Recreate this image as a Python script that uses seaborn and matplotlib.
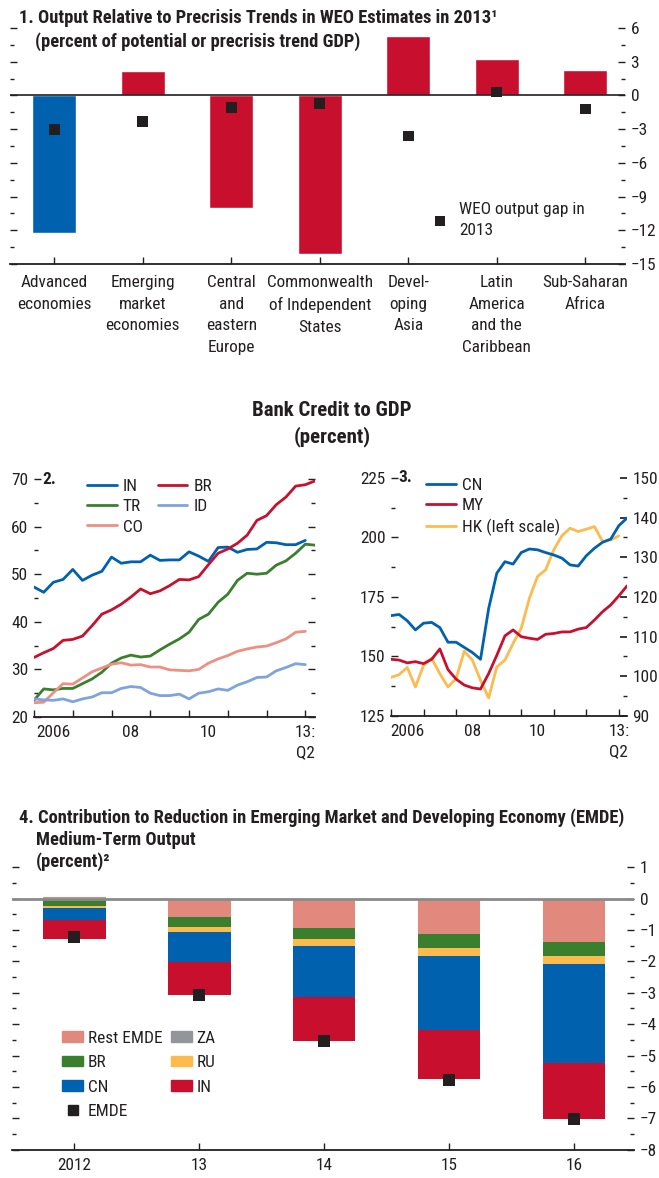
import numpy as np
import pandas as pd
import matplotlib
matplotlib.use("Agg")
import matplotlib.pyplot as plt
import seaborn as sns
from matplotlib.patches import Patch
from matplotlib.lines import Line2D

# ---- panel 1: output relative to precrisis trends
regions = ["Advanced\neconomies", "Emerging\nmarket\neconomies", "Central\nand\neastern\nEurope",
           "Commonwealth\nof Independent\nStates", "Devel-\noping\nAsia",
           "Latin\nAmerica\nand the\nCaribbean", "Sub-Saharan\nAfrica"]
trend_gap = [-12.2, 2.2, -10.0, -14.1, 5.3, 3.2, 2.3]
weo_gap = [-3.0, -2.3, -1.1, -0.7, -3.6, 0.3, -1.2]

# ---- panels 2 and 3: bank credit to GDP, quarterly 2006Q1-2013Q2
quarters = pd.period_range("2006Q1", "2013Q2", freq="Q")
nan = np.nan
IN = [47.3, 46.2, 48.3, 48.9, 51.0, 48.7, 49.8, 50.6, 53.6, 52.3, 52.6, 52.6, 54.0, 52.9, 53.0,
      53.0, 54.7, 53.8, 52.7, 55.6, 55.7, 54.6, 55.2, 55.3, 56.7, 56.6, 56.2, 56.2, 57.1, nan]
BR = [32.5, 33.5, 34.4, 36.1, 36.3, 37.0, 39.2, 41.6, 42.5, 43.7, 45.2, 46.9, 45.9, 46.5, 47.6,
      48.9, 48.8, 49.5, 52.0, 54.4, 55.3, 56.5, 58.2, 61.3, 62.3, 64.6, 66.2, 68.5, 68.8, 69.6]
TR = [23.5, 25.9, 25.7, 26.0, 26.0, 27.0, 28.0, 29.4, 31.3, 32.4, 33.0, 32.6, 32.8, 34.1, 35.3,
      36.4, 37.8, 40.5, 41.6, 44.1, 45.8, 48.7, 50.2, 50.0, 50.2, 51.9, 52.8, 54.4, 56.3, 56.1]
ID = [23.8, 23.6, 23.5, 23.8, 23.2, 23.8, 24.2, 25.1, 25.1, 26.0, 26.4, 26.2, 25.0, 24.5, 24.5,
      24.8, 23.8, 25.0, 25.3, 25.9, 25.6, 26.7, 27.4, 28.3, 28.4, 29.7, 30.4, 31.2, 31.0, nan]
CO = [23.0, 23.1, 25.1, 27.0, 26.9, 28.2, 29.5, 30.3, 31.1, 31.4, 30.9, 31.0, 30.5, 30.5, 29.9,
      29.8, 29.7, 30.0, 31.3, 32.2, 32.9, 33.8, 34.3, 34.7, 34.9, 35.6, 36.4, 37.8, 38.0, nan]
CN = [115.3, 115.6, 114.0, 111.7, 113.4, 113.6, 112.3, 108.6, 108.6, 107.3, 106.0, 104.3, 117.1,
      126.0, 128.9, 128.3, 131.2, 132.1, 131.9, 131.2, 130.6, 129.8, 128.1, 127.8, 130.4, 132.3,
      133.8, 134.6, 138.0, 139.9]
MY = [104.3, 104.1, 103.4, 103.7, 103.2, 104.3, 106.9, 101.7, 99.3, 97.8, 97.1, 96.8, 100.7,
      105.3, 110.2, 111.7, 110.0, 109.6, 109.3, 110.6, 110.8, 111.2, 111.2, 111.9, 112.3, 114.2,
      116.3, 118.0, 120.3, 122.8]
HK = [141.2, 142.4, 145.4, 137.2, 146.3, 149.2, 142.8, 137.2, 140.7, 152.2, 148.5, 140.0, 132.6,
      145.6, 148.5, 155.5, 161.8, 174.4, 183.6, 186.4, 194.8, 200.7, 203.9, 202.5, 203.5, 204.6,
      198.3, 199.0, 200.7, nan]

# ---- panel 4: contributions to EMDE medium-term output reduction
years = ["2012", "13", "14", "15", "16"]
rest_emde = [0.06, -0.57, -0.92, -1.14, -1.39]
br_c = [-0.22, -0.32, -0.37, -0.44, -0.44]
za_c = [0.0, 0.0, 0.0, 0.0, 0.0]
ru_c = [-0.07, -0.16, -0.23, -0.25, -0.25]
cn_c = [-0.40, -0.98, -1.63, -2.37, -3.15]
in_c = [-0.61, -1.05, -1.40, -1.56, -1.81]
emde = [-1.23, -3.07, -4.54, -5.77, -7.03]

BLUE = "#0061ae"
RED = "#c8102e"
GREEN = "#3a7f2e"
LBLUE = "#7fa3db"
PINK = "#ec9083"
YELLOW = "#fdbb4e"
SALMON = "#e0897c"
GRAY = "#939598"
INK = "#231f20"

sns.set_theme(style="white")
plt.rcParams["font.family"] = ["Roboto Condensed", "DejaVu Sans"]
plt.rcParams["font.stretch"] = "condensed"
plt.rcParams["text.color"] = INK
plt.rcParams["xtick.color"] = INK
plt.rcParams["ytick.color"] = INK
FS = 12.4

W, H = 659, 1178
fig = plt.figure(figsize=(W / 100, H / 100), dpi=100)


def box(x0, x1, ytop, ybot):
    return [x0 / W, 1 - ybot / H, (x1 - x0) / W, (ybot - ytop) / H]


def style_axis(ax):
    for s in ["left", "right", "top"]:
        ax.spines[s].set_visible(False)
    ax.spines["bottom"].set_color(INK)
    ax.spines["bottom"].set_linewidth(1.3)
    ax.tick_params(which="both", direction="in", left=True, right=True, bottom=True,
                   labelsize=FS, length=5, width=1, color=INK)


# ================= panel 1
ax1 = fig.add_axes(box(10, 625, 16.8, 264))
df1 = pd.DataFrame({"region": regions, "gap": trend_gap, "weo": weo_gap})
sns.barplot(data=df1, x="region", y="gap", hue="region",
            palette=[BLUE] + [RED] * 6, width=0.5, saturation=1, legend=False, ax=ax1)
sns.scatterplot(data=df1, x="region", y="weo", marker="s", color=INK, s=60,
                edgecolor="none", ax=ax1, label="WEO output gap in\n2013")
ax1.axhline(0, color=INK, lw=1.2)
ax1.set_ylim(-15, 7)
ax1.set_xlim(-0.5, 6.45)
ax1.set_yticks(np.arange(-15, 7, 3))
ax1.set_yticks(np.arange(-15, 7, 1.5), minor=True)
ax1.set_yticklabels([f"{v:d}".replace("-", "\u2212") for v in range(-15, 7, 3)])
style_axis(ax1)
ax1.tick_params(axis="y", labelleft=False, labelright=True, pad=4)
ax1.tick_params(axis="y", which="minor", length=3)
ax1.tick_params(axis="x", pad=8)
ax1.set_xticks(range(len(regions)))
ax1.set_xticklabels(regions, linespacing=1.55)
ax1.set_xlabel("")
ax1.set_ylabel("")
leg1 = ax1.legend(loc="center left", bbox_to_anchor=(0.685, 0.18), frameon=False, fontsize=FS,
                  borderpad=0, borderaxespad=0, handlelength=1.0, handletextpad=0.6)
for t in leg1.get_texts():
    t.set_linespacing(1.5)

fig.text(19 / W, 1 - 18 / H, "1. Output Relative to Precrisis Trends in WEO Estimates in 2013\u00b9",
         fontsize=13.3, fontweight="bold", va="center")
fig.text(35 / W, 1 - 42 / H, "(percent of potential or precrisis trend GDP)",
         fontsize=13.3, fontweight="bold", va="center")

# ================= shared title for 2 and 3
fig.text(332 / W, 1 - 410 / H, "Bank Credit to GDP", fontsize=15,
         fontweight="bold", ha="center", va="center")
fig.text(332 / W, 1 - 437 / H, "(percent)", fontsize=15,
         fontweight="bold", ha="center", va="center")

xq = quarters.year + (quarters.quarter - 1) / 4
year_ticks = list(range(2006, 2014))
minor_pos = [2006.5, 2008.5, 2010.5, 2013.0]
minor_lab = ["2006", "08", "10", "13:\nQ2"]


def time_axis(ax):
    ax.xaxis.remove_overlapping_locs = False
    ax.set_xlim(2006, 2013.25)
    ax.set_xticks(year_ticks)
    ax.set_xticklabels([])
    ax.set_xticks(minor_pos, minor=True)
    ax.set_xticklabels(minor_lab, minor=True, linespacing=1.4)
    ax.tick_params(axis="x", which="minor", length=0, pad=6, labelsize=FS)
    ax.set_xlabel("")
    ax.set_ylabel("")


# ================= panel 2
ax2 = fig.add_axes(box(34, 315, 479, 717))
df2 = pd.DataFrame({"t": xq, "IN": IN, "BR": BR, "TR": TR, "ID": ID, "CO": CO})
for name, col in [("IN", BLUE), ("TR", GREEN), ("CO", PINK), ("BR", RED), ("ID", LBLUE)]:
    sns.lineplot(data=df2, x="t", y=name, color=col, lw=2, ax=ax2, label=name)
ax2.set_ylim(20, 70)
ax2.set_yticks(range(20, 71, 10))
ax2.set_yticks(range(20, 71, 5), minor=True)
style_axis(ax2)
ax2.tick_params(axis="y", labelleft=True, labelright=False, pad=4)
ax2.tick_params(axis="y", which="minor", length=3)
time_axis(ax2)
ax2.legend(loc="upper left", bbox_to_anchor=(0.19, 1.0), ncol=2, frameon=False, fontsize=FS,
           borderpad=0, borderaxespad=0, handlelength=1.7, handletextpad=0.35,
           columnspacing=0.9, labelspacing=0.3)
ax2.text(0.03, 1.0, "2.", transform=ax2.transAxes, fontsize=FS, fontweight="bold",
         va="center", ha="left")

# ================= panel 3
ax3 = fig.add_axes(box(391, 627, 478, 716))
ax3r = ax3.twinx()
df3 = pd.DataFrame({"t": xq, "CN": CN, "MY": MY, "HK": HK})
sns.lineplot(data=df3, x="t", y="HK", color=YELLOW, lw=2, ax=ax3, legend=False)
sns.lineplot(data=df3, x="t", y="CN", color=BLUE, lw=2, ax=ax3r, legend=False)
sns.lineplot(data=df3, x="t", y="MY", color=RED, lw=2, ax=ax3r, legend=False)
ax3.set_ylim(125, 225)
ax3.set_yticks(range(125, 226, 25))
ax3.set_yticks(np.arange(125, 226, 12.5), minor=True)
ax3r.set_ylim(90, 150)
ax3r.set_yticks(range(90, 151, 10))
ax3r.set_yticks(range(90, 151, 5), minor=True)
style_axis(ax3)
ax3.tick_params(axis="y", left=True, right=False, labelleft=True, pad=4)
ax3.tick_params(axis="y", which="minor", right=False, length=3)
for s in ["left", "right", "top", "bottom"]:
    ax3r.spines[s].set_visible(False)
ax3r.tick_params(which="both", direction="in", right=True, left=False, labelsize=FS,
                 length=5, color=INK, pad=4)
ax3r.tick_params(which="minor", length=3)
ax3r.set_ylabel("")
time_axis(ax3)
handles3 = [Line2D([], [], color=BLUE, lw=2), Line2D([], [], color=RED, lw=2),
            Line2D([], [], color=YELLOW, lw=2)]
ax3r.legend(handles3, ["CN", "MY", "HK (left scale)"], loc="upper left",
            bbox_to_anchor=(0.15, 1.0), frameon=False, fontsize=FS, borderpad=0,
            borderaxespad=0, handlelength=1.7, handletextpad=0.35, labelspacing=0.3)
ax3.text(0.03, 1.0, "3.", transform=ax3.transAxes, fontsize=FS, fontweight="bold",
         va="center", ha="left")

# ================= panel 4
ax4 = fig.add_axes(box(12, 634, 859.5, 1149.6))
layers = [("Rest EMDE", rest_emde, SALMON), ("BR", br_c, GREEN), ("ZA", za_c, GRAY),
          ("RU", ru_c, YELLOW), ("CN", cn_c, BLUE), ("IN", in_c, RED)]
xpos = np.arange(len(years))
pos_base = np.zeros(len(years))
neg_base = np.zeros(len(years))
for name, vals, col in layers:
    vals = np.array(vals)
    base = np.where(vals >= 0, pos_base, neg_base)
    ax4.bar(xpos, vals, bottom=base, width=0.5, color=col, linewidth=0)
    pos_base = pos_base + np.clip(vals, 0, None)
    neg_base = neg_base + np.clip(vals, None, 0)
df4 = pd.DataFrame({"x": xpos, "emde": emde})
sns.scatterplot(data=df4, x="x", y="emde", marker="s", color=INK, s=75,
                edgecolor="none", ax=ax4, zorder=5)
ax4.axhline(0, color="#8a8a8a", lw=2, zorder=4)
ax4.set_xlim(-0.5, 4.48)
ax4.set_ylim(-8, 1.25)
ax4.set_yticks(range(-8, 2))
ax4.set_yticks(np.arange(-8, 1.01, 0.5), minor=True)
ax4.set_yticklabels([f"{v:d}".replace("-", "\u2212") for v in range(-8, 2)])
style_axis(ax4)
ax4.tick_params(axis="y", labelleft=False, labelright=True, pad=4)
ax4.tick_params(axis="y", which="minor", length=3)
ax4.set_xticks(xpos)
ax4.set_xticklabels(years)
ax4.tick_params(axis="x", pad=6)
ax4.set_xlabel("")
ax4.set_ylabel("")
handles4 = [Patch(color=SALMON), Patch(color=GREEN), Patch(color=BLUE),
            Line2D([], [], marker="s", color=INK, ls="none", markersize=7),
            Patch(color=GRAY), Patch(color=YELLOW), Patch(color=RED)]
labels4 = ["Rest EMDE", "BR", "CN", "EMDE", "ZA", "RU", "IN"]
ax4.legend(handles4, labels4, loc="upper left", bbox_to_anchor=(0.08, 0.41), ncol=2,
           frameon=False, fontsize=FS, borderpad=0, borderaxespad=0, handlelength=1.25,
           handleheight=0.55, handletextpad=0.25, columnspacing=0.5, labelspacing=0.55)

fig.text(19 / W, 1 - 818 / H,
         "4. Contribution to Reduction in Emerging Market and Developing Economy (EMDE)",
         fontsize=13.3, fontweight="bold", va="center")
fig.text(36 / W, 1 - 840 / H, "Medium-Term Output", fontsize=13.3, fontweight="bold",
         va="center")
fig.text(36 / W, 1 - 862 / H, "(percent)\u00b2", fontsize=13.3, fontweight="bold", va="center")

fig.savefig("out.png", dpi=100)
